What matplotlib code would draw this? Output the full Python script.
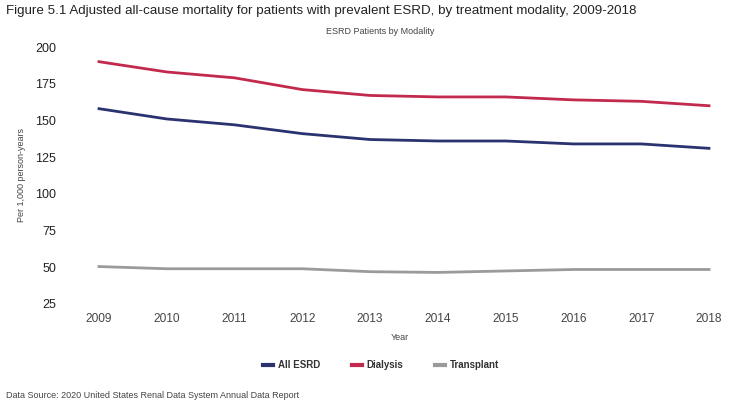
import matplotlib
matplotlib.use("Agg")
import matplotlib.pyplot as plt

plt.rcParams['font.family'] = ['Liberation Sans', 'DejaVu Sans']

years = [2009, 2010, 2011, 2012, 2013, 2014, 2015, 2016, 2017, 2018]
all_esrd = [158, 151, 147, 141, 137, 136, 136, 134, 134, 131]
dialysis = [190, 183, 179, 171, 167, 166, 166, 164, 163, 160]
transplant = [50.5, 49, 49, 49, 47, 46.5, 47.5, 48.5, 48.5, 48.5]
yticks = [25, 50, 75, 100, 125, 150, 175, 200]

W, H = 735, 403
fig = plt.figure(figsize=(W / 100, H / 100), dpi=100)
x0, x1 = 75, 730
y_top, y_bot = 40, 312
ax = fig.add_axes([x0 / W, 1 - y_bot / H, (x1 - x0) / W, (y_bot - y_top) / H])

ax.plot(years, all_esrd, color='#2b3270', lw=2.0, label='All ESRD')
ax.plot(years, dialysis, color='#c22a4d', lw=2.0, label='Dialysis')
ax.plot(years, transplant, color='#9a9a9a', lw=2.0, label='Transplant')

px_per_year = (709 - 99) / 9
ax.set_xlim(2009 - (99 - x0) / px_per_year, 2018 + (x1 - 709) / px_per_year)
px_per_unit = (304 - 47) / 175
ax.set_ylim(25 - (y_bot - 304) / px_per_unit, 200 + (47 - y_top) / px_per_unit)

ax.set_xticks(years)
ax.set_xticklabels([str(y) for y in years], fontsize=8.6, color='#444444')
ax.set_yticks(yticks)
ax.set_yticklabels([str(v) for v in yticks], fontsize=9, color='#222222')
ax.tick_params(axis='x', length=0, pad=1)
ax.tick_params(axis='y', length=0, pad=13.5)
for s in ax.spines.values():
    s.set_visible(False)

fig.text(22 / W, 1 - 175 / H, 'Per 1,000 person-years', rotation=90, fontsize=6.5,
         color='#444444', ha='center', va='center')
fig.text(400 / W, 1 - 337 / H, 'Year', fontsize=6.5, color='#444444', ha='center', va='center')
fig.text(6 / W, 1 - 11 / H,
         'Figure 5.1 Adjusted all-cause mortality for patients with prevalent ESRD, by treatment modality, 2009-2018',
         fontsize=9.6, color='#222222', ha='left', va='center')
fig.text(380 / W, 1 - 32 / H, 'ESRD Patients by Modality', fontsize=6.5, color='#444444',
         ha='center', va='center')
fig.text(6 / W, 1 - 395 / H, 'Data Source: 2020 United States Renal Data System Annual Data Report',
         fontsize=6.5, color='#444444', ha='left', va='center')

leg = fig.legend(loc='center', bbox_to_anchor=(381 / W, 1 - 365 / H), ncol=3, frameon=False,
                 fontsize=7, handlelength=1.0, columnspacing=3.3, handletextpad=0.5)
for t in leg.get_texts():
    t.set_fontweight('bold')
    t.set_color('#333333')
for l in leg.get_lines():
    l.set_linewidth(3)

fig.savefig('out.png', dpi=100)
